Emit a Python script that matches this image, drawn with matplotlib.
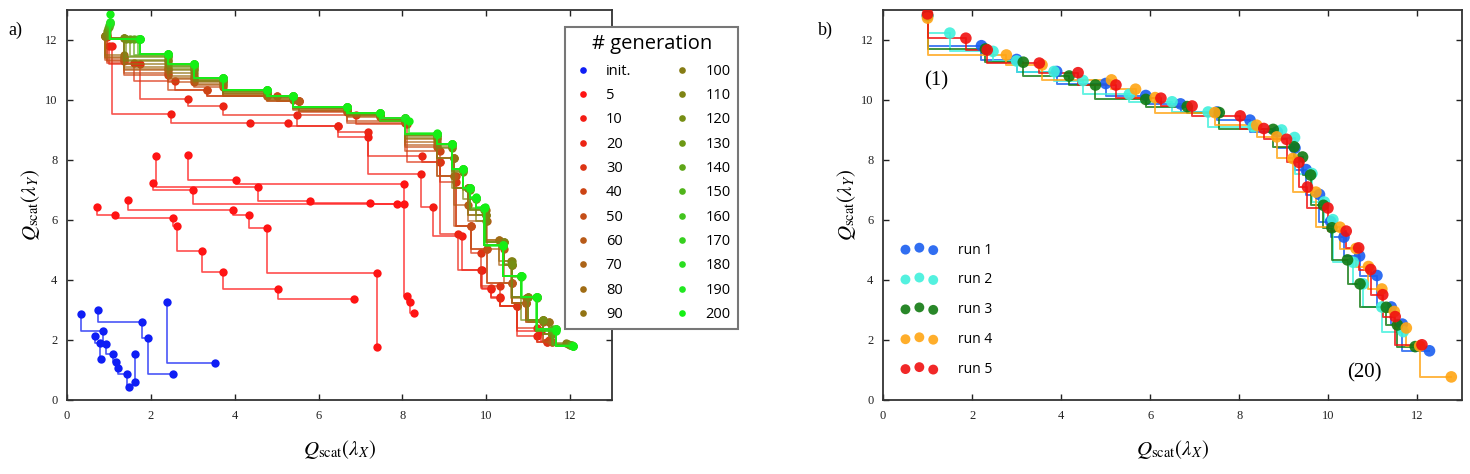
"""Pareto fronts of Q_scat(lambda_X) vs Q_scat(lambda_Y): (a) by generation, (b) five runs."""

import matplotlib
matplotlib.use("Agg")
import matplotlib.pyplot as plt

plt.rcParams["mathtext.fontset"] = "stix"
plt.rcParams["font.family"] = ["Liberation Serif", "DejaVu Serif"]

# ---- panel a: fronts per generation, each a list of (x, y) chains
gen_labels = ["init.", "5", "10", "20", "30", "40", "50", "60", "70", "80", "90",
              "100", "110", "120", "130", "140", "150", "160", "170", "180", "190", "200"]
gen_colors = ["#0f1ef5", "#ff1414", "#f41c14", "#ec2414", "#dc3414", "#cc4414",
              "#c44e18", "#b85a18", "#ac6418", "#a06c14", "#927414", "#867c14",
              "#7e8414", "#768e14", "#6c9814", "#5ea618", "#50b41a", "#42c41e",
              "#36d01e", "#2ade20", "#20e820", "#14f014"]

g_init = [
    ([0.34, 0.85, 0.93, 1.09, 1.16, 1.22, 1.42, 1.49], [2.87, 2.31, 1.87, 1.52, 1.28, 1.06, 0.88, 0.42]),
    ([0.73, 1.80, 1.94, 2.54], [3.01, 2.61, 2.07, 0.87]),
    ([2.38, 3.52], [3.26, 1.24]),
    ([0.66, 0.79, 0.80], [2.12, 1.89, 1.36]),
    ([1.62, 1.62], [1.52, 0.61]),
]
g005 = [
    ([0.72, 1.15, 2.52, 2.62, 3.22, 3.73, 5.03, 6.84], [6.44, 6.16, 6.07, 5.79, 4.97, 4.28, 3.71, 3.37]),
    ([1.45, 3.95, 4.35, 4.77, 7.39, 7.40], [6.66, 6.33, 6.16, 5.75, 4.23, 1.78]),
    ([2.88, 4.04, 8.04, 8.11, 8.19, 8.27], [8.16, 7.34, 7.21, 3.48, 3.28, 2.89]),
    ([2.12, 4.55, 5.79, 7.22, 8.03], [8.15, 7.11, 6.63, 6.58, 6.55]),
    ([2.05, 3.01, 7.87], [7.23, 7.00, 6.52]),
]
g010 = [([1.07, 2.48, 4.37, 5.27, 6.46, 7.17, 8.45, 8.73, 9.42, 9.90, 10.12, 10.33, 10.73, 11.30, 11.50],
         [11.80, 9.54, 9.24, 9.24, 9.12, 8.77, 7.54, 6.42, 5.46, 4.34, 3.71, 3.43, 3.15, 2.30, 1.98])]
g020 = [([1.00, 1.74, 2.88, 3.71, 5.48, 6.46, 7.17, 8.47, 8.89, 9.32, 9.87, 10.12, 10.33, 10.73, 11.21, 11.45],
         [11.80, 11.19, 10.03, 9.80, 9.51, 9.12, 8.95, 8.14, 7.92, 5.55, 4.34, 3.73, 3.39, 3.15, 2.14, 1.92])]
g030 = [([0.95, 1.60, 2.58, 3.33, 5.02, 5.54, 6.90, 8.10, 8.89, 9.29, 9.64, 9.87, 10.33, 10.73, 11.21, 11.45],
         [12.10, 11.25, 10.63, 10.35, 10.13, 9.96, 9.50, 9.20, 7.92, 7.28, 5.80, 4.90, 3.80, 3.15, 2.40, 1.95])]
g040 = [([0.95, 1.35, 2.40, 3.33, 4.78, 5.54, 6.68, 8.07, 8.89, 9.29, 9.64, 10.02, 10.62, 10.94, 11.35, 11.49],
         [12.13, 11.30, 10.85, 10.35, 10.13, 9.96, 9.60, 9.25, 8.30, 7.47, 5.80, 5.04, 3.91, 3.23, 2.67, 2.00])]
g050 = [([0.91, 1.35, 2.40, 3.02, 3.73, 5.02, 5.54, 6.68, 8.07, 8.83, 9.24, 9.64, 10.02, 10.62, 10.94, 11.49, 11.57],
         [12.13, 11.35, 10.90, 10.60, 10.45, 10.13, 9.96, 9.65, 9.30, 8.45, 7.47, 5.80, 5.04, 3.91, 3.23, 2.59, 1.95])]
g060 = [([0.91, 1.35, 2.40, 3.02, 3.73, 4.78, 5.54, 6.68, 7.46, 8.07, 8.83, 9.24, 9.57, 10.02, 10.42, 10.62, 10.94, 11.35, 11.57],
         [12.13, 11.40, 11.00, 10.70, 10.50, 10.15, 9.96, 9.65, 9.45, 9.30, 8.50, 7.47, 6.50, 5.96, 5.04, 3.91, 3.23, 2.59, 1.95])]
g070 = [([0.91, 1.35, 2.40, 3.02, 3.73, 4.78, 5.40, 6.68, 7.46, 8.07, 8.83, 9.24, 9.57, 10.00, 10.30, 10.62, 10.94, 11.35, 11.57],
         [12.13, 11.45, 11.05, 10.75, 10.55, 10.20, 10.00, 9.68, 9.48, 9.30, 8.60, 8.06, 7.06, 6.16, 5.35, 4.49, 3.23, 2.67, 2.20])]
g080 = [([0.91, 1.35, 2.40, 3.02, 3.73, 4.78, 5.40, 6.68, 7.46, 8.07, 8.83, 9.24, 9.57, 10.00, 10.30, 10.58, 10.94, 11.35, 11.57],
         [12.13, 11.50, 11.10, 10.80, 10.60, 10.20, 10.05, 9.70, 9.50, 9.35, 8.70, 8.06, 7.06, 6.35, 5.35, 4.65, 3.40, 2.67, 2.20])]
g090 = [([0.91, 1.35, 2.40, 3.02, 3.73, 4.78, 5.40, 6.68, 7.46, 8.07, 8.83, 9.24, 9.57, 10.00, 10.42, 10.62, 11.00, 11.49, 11.57],
         [12.13, 12.07, 11.20, 10.90, 10.62, 10.25, 10.08, 9.72, 9.50, 9.36, 8.75, 8.06, 7.06, 6.16, 5.27, 4.49, 3.45, 2.59, 2.20])]
g100 = [([0.91, 1.35, 2.40, 3.02, 3.73, 4.78, 5.40, 6.68, 7.46, 8.07, 8.83, 9.18, 9.57, 9.76, 10.00, 10.42, 10.62, 11.00, 11.35, 11.57, 11.90],
         [12.13, 12.07, 11.30, 11.00, 10.65, 10.28, 10.10, 9.74, 9.52, 9.38, 8.80, 8.40, 7.06, 6.70, 5.96, 5.27, 4.49, 3.45, 2.67, 2.20, 1.90])]
g110 = [([0.95, 1.35, 2.40, 3.02, 3.73, 4.78, 5.40, 6.68, 7.46, 8.07, 8.83, 9.18, 9.45, 9.76, 10.00, 10.42, 10.62, 11.00, 11.35, 11.57, 11.95],
         [12.20, 12.07, 11.35, 11.05, 10.68, 10.30, 10.10, 9.75, 9.55, 9.38, 8.82, 8.45, 7.60, 6.70, 6.16, 5.27, 4.65, 3.45, 2.67, 2.20, 1.88])]
g120 = [([0.95, 1.40, 2.40, 3.02, 3.73, 4.78, 5.40, 6.68, 7.46, 8.07, 8.83, 9.18, 9.45, 9.62, 9.95, 10.41, 10.62, 10.84, 11.35, 11.60, 12.00],
         [12.30, 12.05, 11.45, 11.10, 10.70, 10.30, 10.12, 9.76, 9.55, 9.38, 8.85, 8.50, 7.65, 7.00, 6.35, 5.16, 4.55, 4.10, 2.67, 2.30, 1.85])]
g130 = [([0.98, 1.50, 2.40, 3.02, 3.73, 4.78, 5.40, 6.68, 7.46, 8.07, 8.83, 9.18, 9.45, 9.62, 9.95, 10.41, 10.84, 11.20, 11.57, 12.00],
         [12.40, 12.03, 11.48, 11.15, 10.72, 10.32, 10.12, 9.76, 9.56, 9.39, 8.86, 8.52, 7.68, 7.05, 6.38, 5.16, 4.12, 3.40, 2.35, 1.84])]
g140 = [([1.00, 1.60, 2.40, 3.02, 3.73, 4.78, 5.40, 6.68, 7.46, 8.07, 8.83, 9.18, 9.45, 9.62, 9.95, 10.41, 10.84, 11.20, 11.60, 12.02],
         [12.45, 12.03, 11.50, 11.17, 10.73, 10.33, 10.13, 9.77, 9.57, 9.40, 8.87, 8.53, 7.70, 7.08, 6.41, 5.16, 4.12, 3.45, 2.36, 1.83])]
g150 = [([1.00, 1.70, 2.40, 3.02, 3.73, 4.78, 5.40, 6.68, 7.46, 8.07, 8.83, 9.18, 9.45, 9.62, 9.76, 9.95, 10.41, 10.84, 11.20, 11.67, 12.05],
         [12.50, 12.03, 11.52, 11.19, 10.74, 10.33, 10.13, 9.77, 9.57, 9.40, 8.87, 8.53, 7.70, 7.08, 6.74, 6.41, 5.16, 4.12, 3.45, 2.38, 1.82])]
g160 = [([1.03, 1.74, 2.40, 3.02, 3.73, 4.78, 5.40, 6.68, 7.46, 8.07, 8.83, 9.18, 9.45, 9.62, 9.76, 9.95, 10.41, 10.84, 11.20, 11.67, 12.08],
         [12.55, 12.03, 11.52, 11.19, 10.74, 10.33, 10.13, 9.77, 9.57, 9.40, 8.87, 8.53, 7.70, 7.08, 6.74, 6.41, 5.16, 4.12, 3.45, 2.38, 1.81])]
g170 = [([1.03, 1.74, 2.40, 3.02, 3.73, 4.78, 5.40, 6.68, 7.46, 8.07, 8.83, 9.18, 9.45, 9.62, 9.76, 9.95, 10.41, 10.84, 11.20, 11.67, 12.08],
         [12.58, 12.03, 11.52, 11.19, 10.74, 10.33, 10.13, 9.77, 9.57, 9.40, 8.87, 8.53, 7.70, 7.08, 6.74, 6.41, 5.16, 4.12, 3.45, 2.38, 1.81])]
g180 = [([1.03, 1.74, 2.40, 3.02, 3.73, 4.78, 5.40, 6.68, 7.46, 8.07, 8.83, 9.18, 9.45, 9.62, 9.76, 9.95, 10.41, 10.84, 11.20, 11.67, 12.08],
         [12.61, 12.03, 11.52, 11.19, 10.74, 10.33, 10.13, 9.77, 9.57, 9.40, 8.87, 8.53, 7.70, 7.08, 6.74, 6.41, 5.16, 4.12, 3.45, 2.38, 1.81])]
g190 = [([1.03, 1.74, 2.40, 3.02, 3.73, 4.78, 5.40, 6.68, 7.46, 8.07, 8.83, 9.18, 9.45, 9.62, 9.76, 9.95, 10.41, 10.84, 11.20, 11.67, 12.08],
         [12.61, 12.03, 11.52, 11.19, 10.74, 10.33, 10.13, 9.77, 9.57, 9.40, 8.87, 8.53, 7.70, 7.08, 6.74, 6.41, 5.16, 4.12, 3.45, 2.38, 1.81])]
g200 = [([1.03, 1.74, 2.40, 3.02, 3.73, 4.78, 5.40, 6.68, 7.46, 8.15, 8.83, 9.18, 9.45, 9.62, 9.76, 9.98, 10.41, 10.85, 11.19, 11.67, 12.07],
         [12.86, 12.03, 11.52, 11.19, 10.74, 10.33, 10.13, 9.77, 9.57, 9.30, 8.90, 8.54, 7.69, 7.08, 6.78, 6.42, 5.15, 4.15, 3.45, 2.31, 1.81])]

generations = [g_init, g005, g010, g020, g030, g040, g050, g060, g070, g080, g090,
               g100, g110, g120, g130, g140, g150, g160, g170, g180, g190, g200]

# ---- panel b: final fronts of five runs
run_labels = ["run 1", "run 2", "run 3", "run 4", "run 5"]
run_colors = ["#1a5ef0", "#40f0dc", "#127a12", "#ffa514", "#f01010"]
run1_x = [1.00, 2.21, 3.00, 3.90, 5.00, 5.90, 6.68, 7.50, 8.24, 8.85, 9.25, 9.50, 9.80, 10.05, 10.35, 10.70, 11.09, 11.41, 11.66, 12.27]
run1_y = [12.80, 11.81, 11.35, 10.95, 10.55, 10.15, 9.87, 9.60, 9.33, 8.94, 8.40, 7.68, 6.85, 5.95, 5.43, 4.80, 4.15, 3.10, 2.53, 1.64]
run2_x = [1.00, 1.50, 2.47, 3.00, 3.84, 4.49, 5.53, 6.49, 7.30, 8.31, 8.95, 9.24, 9.63, 9.91, 10.10, 10.56, 10.78, 11.20, 11.68]
run2_y = [12.80, 12.23, 11.62, 11.30, 10.95, 10.65, 10.19, 9.94, 9.60, 9.11, 9.00, 8.75, 7.55, 6.60, 6.01, 4.59, 3.87, 3.10, 2.28]
run3_x = [1.00, 2.30, 3.15, 4.18, 4.77, 5.90, 6.83, 7.55, 8.76, 9.23, 9.42, 9.60, 9.89, 10.08, 10.43, 10.71, 11.30, 11.55, 11.95]
run3_y = [12.82, 11.70, 11.26, 10.80, 10.50, 10.02, 9.78, 9.58, 9.02, 8.44, 8.10, 7.50, 6.49, 5.74, 4.67, 3.87, 3.09, 2.50, 1.78]
run4_x = [1.00, 2.77, 3.57, 5.13, 5.67, 6.11, 7.45, 8.39, 8.84, 9.20, 9.72, 10.26, 10.62, 10.90, 11.20, 11.48, 11.75, 12.05, 12.76]
run4_y = [12.73, 11.50, 11.17, 10.67, 10.36, 10.08, 9.58, 9.16, 8.77, 8.05, 6.93, 5.76, 5.05, 4.45, 3.70, 2.95, 2.40, 1.80, 0.77]
run5_x = [1.00, 1.86, 2.34, 3.51, 4.38, 5.23, 6.24, 6.94, 8.02, 8.55, 9.06, 9.34, 9.53, 9.99, 10.40, 10.68, 10.95, 11.22, 11.50, 12.10]
run5_y = [12.87, 12.06, 11.67, 11.23, 10.91, 10.50, 10.06, 9.80, 9.47, 9.05, 8.69, 7.92, 7.10, 6.40, 5.63, 5.07, 4.35, 3.51, 2.78, 1.84]
runs_x = [run1_x, run2_x, run3_x, run4_x, run5_x]
runs_y = [run1_y, run2_y, run3_y, run4_y, run5_y]

ticks = [0, 2, 4, 6, 8, 10, 12]


def style_axes(ax, ylab):
    ax.set_xlim(0, 13)
    ax.set_ylim(0, 13)
    ax.set_xticks(ticks)
    ax.set_yticks(ticks)
    ax.tick_params(direction="in", top=True, right=True, length=4, width=1,
                   labelsize=9, colors="#222222", pad=7)
    for s in ax.spines.values():
        s.set_linewidth(1.3)
        s.set_color("#333333")
    ax.set_xlabel(r"$Q_{\mathrm{scat}}(\lambda_X)$", fontsize=15, labelpad=12)
    ax.set_ylabel(ylab, fontsize=15, labelpad=2)


fig = plt.figure(figsize=(14.7, 4.74), dpi=100)
ax1 = fig.add_axes([67 / 1470, 74 / 474, 545 / 1470, 390 / 474])
ax2 = fig.add_axes([883 / 1470, 74 / 474, 579 / 1470, 390 / 474])

handles = []
for chains, col in zip(generations, gen_colors):
    first = None
    for xs, ys in chains:
        ax1.plot(xs, ys, drawstyle="steps-pre", color=col, lw=1.2, alpha=0.75)
        (m,) = ax1.plot(xs, ys, "o", color=col, ms=6, mec="none")
        if first is None:
            first = m
    handles.append(first)
style_axes(ax1, r"$Q_{\mathrm{scat}}(\lambda_Y)$")

leg = fig.legend(handles, gen_labels, ncol=2, loc="upper left",
                 bbox_to_anchor=(565 / 1470, 1 - 27 / 474), title="# generation",
                 prop={"family": "Open Sans", "size": 10.5},
                 title_fontproperties={"family": "Open Sans", "size": 14.5},
                 numpoints=1, markerscale=0.8, fancybox=False, edgecolor="#777777",
                 framealpha=1, labelspacing=0.64, columnspacing=2.8, handletextpad=0.9,
                 handlelength=1.4, borderpad=0.5, borderaxespad=0)
leg.get_frame().set_linewidth(1.5)

for xs, ys, col, lab in zip(runs_x, runs_y, run_colors, run_labels):
    ax2.plot(xs, ys, drawstyle="steps-pre", color=col, lw=1.4, alpha=0.8)
    ax2.scatter(xs, ys, s=70, color=col, alpha=0.9, edgecolors="none", label=lab, zorder=3)
style_axes(ax2, r"$Q_{\mathrm{scat}}(\lambda_Y)$")
ax2.legend(loc="lower left", bbox_to_anchor=(0.01, 0.027), frameon=False, scatterpoints=3,
           scatteryoffsets=[0.4, 0.6, 0.35], prop={"family": "Open Sans", "size": 10},
           markerscale=0.85, labelspacing=1.07, handlelength=2.6, handletextpad=1.5)
ax2.text(1.2, 10.65, "(1)", fontsize=15, ha="center", va="center")
ax2.text(10.8, 0.9, "(20)", fontsize=15, ha="center", va="center")

fig.text(8 / 1470, 1 - 30 / 474, "a)", fontsize=13, ha="left", va="center")
fig.text(818 / 1470, 1 - 30 / 474, "b)", fontsize=13, ha="left", va="center")

fig.savefig("out.png", dpi=100)
